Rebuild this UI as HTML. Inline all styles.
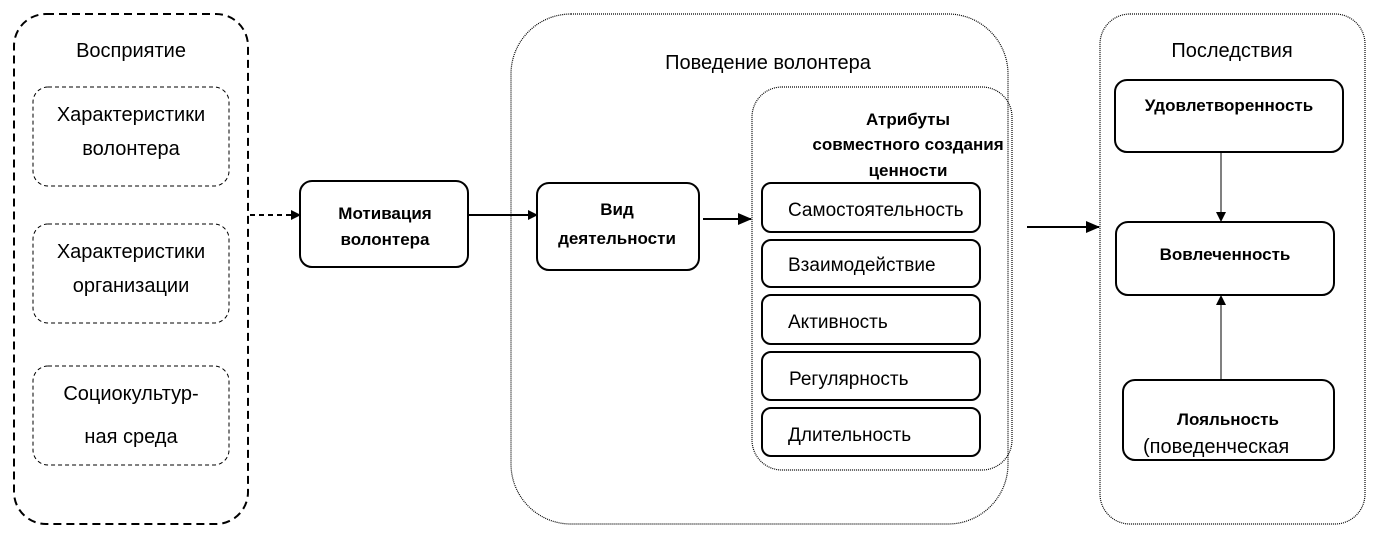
<!DOCTYPE html>
<html><head><meta charset="utf-8"><style>
html,body{margin:0;padding:0;background:#fff;}
svg text{font-family:"Liberation Sans",sans-serif;fill:#000;}
</style></head><body>
<svg width="1377" height="538" viewBox="0 0 1377 538" xmlns="http://www.w3.org/2000/svg">
<defs>
<marker id="a" markerWidth="10" markerHeight="10" refX="9" refY="5" orient="auto" markerUnits="userSpaceOnUse">
<path d="M0,0 L10,5 L0,10 z" fill="#000"/></marker>
<marker id="b" markerWidth="14" markerHeight="12" refX="13" refY="6" orient="auto" markerUnits="userSpaceOnUse">
<path d="M0,0 L14,6 L0,12 z" fill="#000"/></marker>
</defs>
<g fill="none" stroke="#000">
<rect x="14" y="14" width="234" height="510" rx="32" stroke-width="2" stroke-dasharray="8,5"/>
<rect x="33" y="87" width="196" height="99" rx="15" stroke-width="1" stroke-dasharray="4,3"/>
<rect x="33" y="224" width="196" height="99" rx="15" stroke-width="1" stroke-dasharray="4,3"/>
<rect x="33" y="366" width="196" height="99" rx="15" stroke-width="1" stroke-dasharray="4,3"/>
<rect x="300" y="181" width="168" height="86" rx="12" stroke-width="2"/>
<rect x="511" y="14" width="497" height="510" rx="60" stroke-width="1.2" stroke-dasharray="1,1"/>
<rect x="537" y="183" width="162" height="87" rx="12" stroke-width="2"/>
<rect x="752" y="87" width="260" height="383" rx="30" stroke-width="1.2" stroke-dasharray="1,1"/>
<rect x="762" y="183" width="218" height="49" rx="9" stroke-width="2"/>
<rect x="762" y="240" width="218" height="47" rx="9" stroke-width="2"/>
<rect x="762" y="295" width="218" height="49" rx="9" stroke-width="2"/>
<rect x="762" y="352" width="218" height="48" rx="9" stroke-width="2"/>
<rect x="762" y="408" width="218" height="48" rx="9" stroke-width="2"/>
<rect x="1100" y="14" width="265" height="510" rx="30" stroke-width="1.2" stroke-dasharray="1,1"/>
<rect x="1115" y="80" width="228" height="72" rx="12" stroke-width="2"/>
<rect x="1116" y="222" width="218" height="73" rx="12" stroke-width="2"/>
<rect x="1123" y="380" width="211" height="80" rx="12" stroke-width="2"/>
<line x1="250" y1="215" x2="300" y2="215" stroke-width="2" stroke-dasharray="5,4" marker-end="url(#a)"/>
<line x1="469" y1="215" x2="537" y2="215" stroke-width="2" marker-end="url(#a)"/>
<line x1="703" y1="219" x2="751" y2="219" stroke-width="2" marker-end="url(#b)"/>
<line x1="1027" y1="227" x2="1099" y2="227" stroke-width="2" marker-end="url(#b)"/>
<line x1="1221" y1="152" x2="1221" y2="221" stroke-width="1" marker-end="url(#a)"/>
<line x1="1221" y1="380" x2="1221" y2="296" stroke-width="1" marker-end="url(#a)"/>
</g>
<g font-size="20" text-anchor="middle">
<text x="131" y="57">Восприятие</text>
<text x="131" y="121">Характеристики</text>
<text x="131" y="155">волонтера</text>
<text x="131" y="258">Характеристики</text>
<text x="131" y="292">организации</text>
<text x="131" y="400">Социокультур-</text>
<text x="131" y="443">ная среда</text>
<text x="768" y="69">Поведение волонтера</text>
<text x="1232" y="57">Последствия</text>
</g>
<g font-size="17" font-weight="bold" text-anchor="middle">
<text x="385" y="219">Мотивация</text>
<text x="385" y="245">волонтера</text>
<text x="617" y="215">Вид</text>
<text x="617" y="244">деятельности</text>
<text x="908" y="125">Атрибуты</text>
<text x="908" y="150">совместного создания</text>
<text x="908" y="176">ценности</text>
<text x="1229" y="111">Удовлетворенность</text>
<text x="1225" y="260">Вовлеченность</text>
<text x="1228" y="425">Лояльность</text>
</g>
<g font-size="19">
<text x="788" y="216">Самостоятельность</text>
<text x="788" y="271">Взаимодействие</text>
<text x="788" y="328">Активность</text>
<text x="789" y="385">Регулярность</text>
<text x="788" y="441">Длительность</text>
<text x="1143" y="453" font-size="20">(поведенческая</text>
</g>
</svg>
</body></html>
